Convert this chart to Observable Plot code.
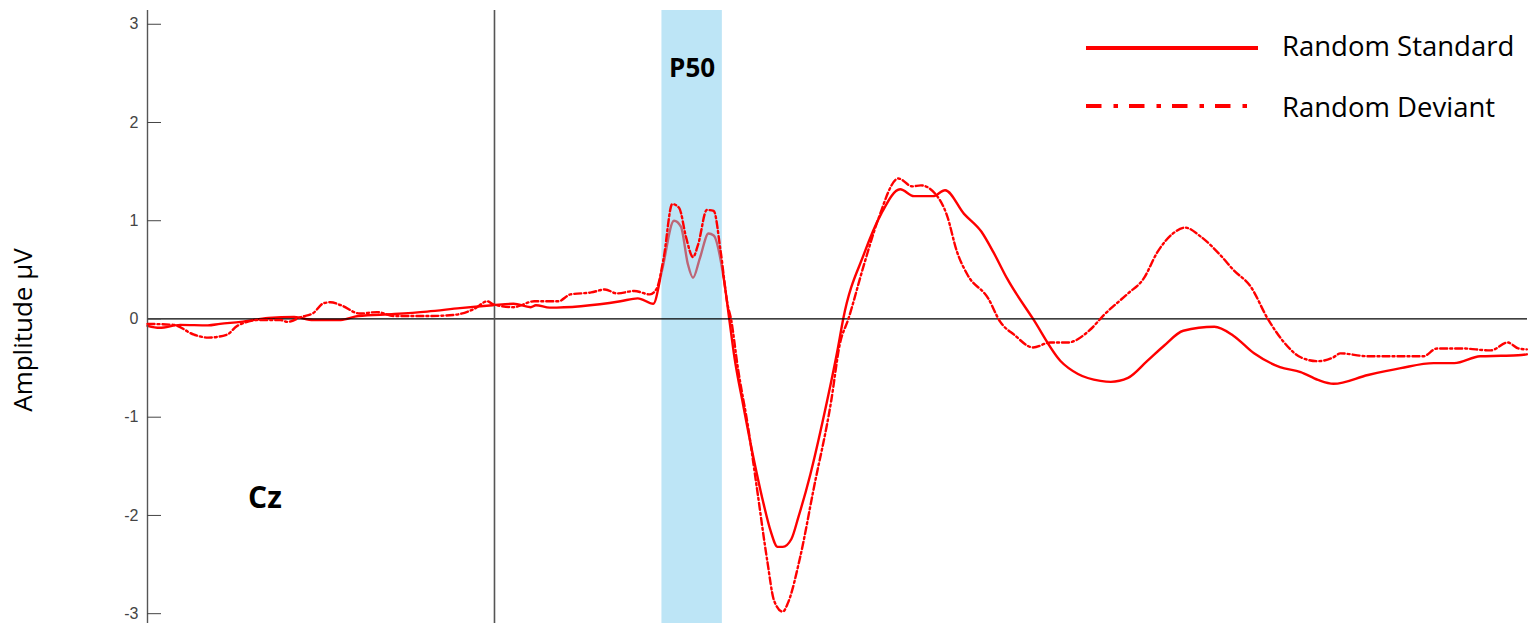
<!DOCTYPE html>
<html><head><meta charset="utf-8">
<script src="https://cdn.jsdelivr.net/npm/d3@7"></script>
<script src="https://cdn.jsdelivr.net/npm/@observablehq/plot@0.6"></script>
<style>
body{margin:0;background:#fff;}
#wrap{position:relative;width:1533px;height:623px;overflow:hidden;background:#fff;}
.legtxt{position:absolute;font-family:"Open Sans",sans-serif;font-size:27.5px;line-height:27.5px;color:#000;white-space:nowrap;}
.legsw{position:absolute;}
</style></head><body><div id="wrap"></div>
<script>
// ---- data (time in ms, amplitude in µV) ----
const stdTime = [-201,-194,-182,-166,-159,-147,-131,-116,-105,-89,-79,-58,-39,-20,-8,-1,11,21,24,32,50,61,73,83,92,97,104,108,112,115,119,124,127,133,136,139,144,150,156,160,164,167,172,176,183,191,199,202,214,224,235,243,254,261,272,282,289,297,312,328,338,351,357,367,378,388,399,417,428,440,455,467,477,486,506,525,544,556,571,583,593,598];
const stdAmp  = [-0.07,-0.09,-0.06,-0.065,-0.05,-0.03,0.01,0.02,-0.01,-0.01,0.03,0.05,0.075,0.11,0.13,0.14,0.155,0.12,0.14,0.115,0.13,0.15,0.18,0.21,0.155,0.49,1.0,0.94,0.56,0.42,0.62,0.87,0.85,0.39,0,-0.39,-0.87,-1.41,-1.89,-2.16,-2.32,-2.32,-2.24,-2.02,-1.58,-0.97,-0.29,0,0.66,1.07,1.32,1.25,1.25,1.31,1.07,0.89,0.68,0.41,0,-0.43,-0.56,-0.63,-0.64,-0.6,-0.43,-0.27,-0.12,-0.08,-0.17,-0.35,-0.49,-0.54,-0.62,-0.66,-0.57,-0.5,-0.45,-0.45,-0.38,-0.375,-0.37,-0.36];
const devTime = [-201,-186,-174,-166,-155,-149,-136,-124,-120,-112,-105,-99,-95,-89,-78,-68,-58,-39,-24,-12,-4,-1,11,23,37,44,56,64,71,81,90,94,98,103,107,111,115,118,123,127,131,135,137,141,147,152,158,162,167,170,177,185,195,200,205,214,222,234,242,247,256,262,268,274,286,293,301,312,322,332,345,353,367,376,384,393,400,409,421,428,438,448,457,467,477,486,490,506,538,546,560,577,587,593,598];
const devAmp  = [-0.05,-0.06,-0.16,-0.19,-0.16,-0.07,-0.01,-0.01,-0.03,0.02,0.06,0.16,0.17,0.14,0.055,0.07,0.03,0.03,0.04,0.1,0.18,0.15,0.12,0.18,0.18,0.25,0.27,0.30,0.26,0.285,0.25,0.31,0.62,1.17,1.13,0.83,0.63,0.76,1.11,1.1,0.69,0.15,0,-0.5,-1.11,-1.72,-2.46,-2.87,-2.98,-2.89,-2.43,-1.72,-0.84,-0.26,0,0.55,1.0,1.43,1.35,1.36,1.26,1.06,0.68,0.45,0.21,-0.03,-0.16,-0.29,-0.24,-0.24,-0.11,0.04,0.26,0.41,0.68,0.87,0.93,0.84,0.64,0.5,0.33,0,-0.23,-0.39,-0.43,-0.39,-0.35,-0.38,-0.38,-0.3,-0.3,-0.32,-0.24,-0.3,-0.31];
const seriesNames = ["Random Standard", "Random Deviant"];
const yTicks = [-3, -2, -1, 0, 1, 2, 3];
const bandStart = [97];
const bandEnd = [132];
const bandLabels = ["P50"];
const bandLabelAmp = [2.55];
const channelLabel = ["Cz"];
const channelTime = [-133];
const channelAmp = [-1.83];
const yLabel = "Amplitude µV";

// ---- build tables ----
const std = stdTime.map((t, i) => ({t, v: stdAmp[i]}));
const dev = devTime.map((t, i) => ({t, v: devAmp[i]}));
const bands = bandStart.map((s, i) => ({start: s, end: bandEnd[i], label: bandLabels[i], amp: bandLabelAmp[i]}));
const chans = channelLabel.map((c, i) => ({label: c, t: channelTime[i], v: channelAmp[i]}));

const red = "#ff0000";
const plot = Plot.plot({
  width: 1533, height: 623,
  marginLeft: 147, marginRight: 6, marginTop: 10, marginBottom: 0,
  x: {domain: [-201, 598.4], axis: null},
  y: {domain: [-3.1, 3.14], axis: null},
  style: {background: "#fff", fontFamily: "'Liberation Sans', Arial, sans-serif", overflow: "visible"},
  marks: [
    Plot.line(std, {x: "t", y: "v", stroke: red, strokeWidth: 2.4, curve: "monotone-x"}),
    Plot.rect(bands, {x1: "start", x2: "end", fill: "#7bcbed", fillOpacity: 0.5}),
    Plot.ruleY([0], {stroke: "#000", strokeWidth: 1.2}),
    Plot.ruleX([0], {stroke: "#555", strokeWidth: 1.6}),
    Plot.ruleX([-201], {stroke: "#555", strokeWidth: 1.4}),
    Plot.axisY({ticks: yTicks, tickSize: -14, tickPadding: 23, label: null, fontSize: 16, color: "#444", tickFormat: d => String(d)}),
    Plot.line(dev, {x: "t", y: "v", stroke: red, strokeWidth: 2.4, strokeDasharray: "7,3,2,3", curve: "monotone-x"}),
    Plot.text(bands, {x: d => (d.start + d.end) / 2, y: "amp", text: "label", fontWeight: "bold", fontSize: 26, fontFamily: "'Open Sans', sans-serif", fill: "#000"}),
    Plot.text(chans, {x: "t", y: "v", text: "label", fontWeight: "bold", fontSize: 30, fontFamily: "'Open Sans', sans-serif", fill: "#000"}),
    Plot.text([yLabel], {frameAnchor: "left", textAnchor: "middle", rotate: -90, dx: -124, dy: 13, fontSize: 26, fontFamily: "'Open Sans', sans-serif", fill: "#000"})
  ]
});
const wrap = document.getElementById("wrap");
wrap.appendChild(plot);

// ---- legend overlay ----
const legendRows = [
  {name: seriesNames[0], dash: null, top: 32, lineY: 48, x2: 1258},
  {name: seriesNames[1], dash: "15.5 12 4.5 11", top: 93, lineY: 106, x2: 1250}
];
for (const r of legendRows) {
  const svg = d3.create("svg").attr("class", "legsw")
    .attr("width", 200).attr("height", 10)
    .style("left", "1080px").style("top", (r.lineY - 5) + "px");
  svg.append("line").attr("x1", 6).attr("x2", r.x2 - 1080).attr("y1", 5).attr("y2", 5)
    .attr("stroke", red).attr("stroke-width", 4).attr("stroke-dasharray", r.dash);
  wrap.appendChild(svg.node());
  const t = document.createElement("div");
  t.className = "legtxt";
  t.style.left = "1282px";
  t.style.top = r.top + "px";
  t.textContent = r.name;
  wrap.appendChild(t);
}
</script></body></html>
